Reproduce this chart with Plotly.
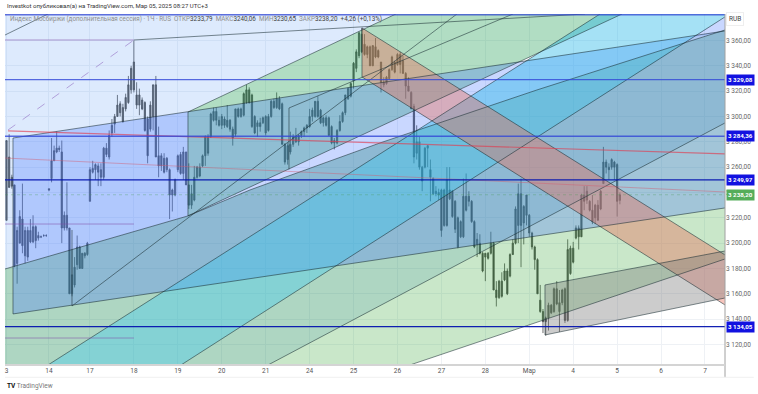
import plotly.graph_objects as go

# ---------- chart data (one session = 16 hourly bars) ----------
day_labels = ["3","14","17","18","19","20","21","24","25","26","27","28","Мар","4","5","6","7"]
# axis position of each session's first bar
day_pos = [0.0,0.968,1.901,2.902,3.903,4.904,5.904,6.905,7.906,8.906,9.907,10.908,11.908,12.909,13.910,14.911,15.911]
price_ticks = [3120,3140,3160,3180,3200,3220,3240,3260,3280,3300,3320,3340,3360]

opens = [
3218,3268,3252,3246,3184,3200,3219,3190,3210,3201,3201,3213,3204,3205,3206,3206,
3243,3251,3265,3272,3275,3272,3212,3222,3212,3160,3167,3183,3197,3180,3190,3191,
3233,3256,3258,3261,3258,3252,3275,3268,3287,3294,3300,3303,3307,3306,3311,3321,
3343,3317,3309,3313,3311,3298,3290,3300,3325,3269,3261,3267,3258,3258,3238,3238,
3258,3270,3255,3272,3246,3230,3234,3252,3260,3261,3269,3284,3284,3297,3304,3297,
3293,3298,3292,3297,3290,3286,3306,3300,3301,3311,3321,3317,3300,3292,3295,3295,
3287,3300,3300,3312,3307,3314,3310,3278,3266,3272,3278,3284,3280,3285,3288,3291,
3292,3300,3300,3312,3305,3295,3299,3299,3292,3279,3279,3289,3296,3303,3314,3316,
3328,3338,3348,3365,3357,3349,3355,3340,3355,3352,3343,3327,3326,3330,3337,3343,
3341,3349,3344,3334,3324,3319,3308,3271,3280,3260,3260,3275,3258,3251,3239,3240,
3242,3214,3250,3235,3241,3233,3220,3205,3205,3237,3237,3233,3217,3199,3200,3192,
3189,3192,3192,3200,3163,3157,3170,3171,3178,3174,3191,3200,3214,3239,3216,3222,
3222,3208,3197,3187,3155,3146,3141,3141,3151,3146,3164,3146,3153,3164,3139,3176,
3196,3204,3212,3205,3238,3234,3233,3226,3220,3230,3227,3247,3264,3260,3260,3264,
3262,3233.79]
highs = [
3281,3286,3254,3246,3213,3226,3247,3213,3213,3219,3222,3214,3209,3206,3207,3207,
3243,3283,3277,3288,3277,3281,3225,3248,3212,3195,3189,3206,3198,3192,3193,3201,
3260,3265,3263,3263,3263,3276,3279,3289,3298,3302,3317,3312,3310,3318,3332,3340,
3360,3327,3322,3315,3312,3300,3312,3325,3332,3292,3271,3271,3268,3259,3243,3251,
3270,3272,3276,3272,3263,3246,3261,3261,3263,3270,3285,3286,3303,3307,3307,3300,
3302,3300,3309,3298,3292,3306,3307,3307,3319,3325,3323,3318,3301,3297,3299,3300,
3301,3302,3313,3314,3319,3316,3311,3279,3279,3288,3286,3291,3286,3289,3292,3294,
3306,3307,3312,3316,3306,3300,3301,3300,3293,3283,3290,3301,3304,3317,3323,3327,
3343,3353,3367,3370,3365,3356,3356,3356,3362,3353,3343,3331,3332,3338,3348,3344,
3350,3351,3348,3335,3331,3320,3310,3293,3284,3261,3276,3277,3266,3252,3245,3243,
3243,3243,3260,3260,3242,3234,3221,3218,3251,3255,3241,3234,3218,3208,3207,3193,
3192,3193,3209,3201,3170,3171,3177,3184,3180,3192,3203,3229,3247,3251,3230,3238,
3223,3209,3198,3188,3167,3148,3142,3153,3152,3165,3170,3163,3164,3165,3203,3198,
3201,3214,3214,3239,3245,3245,3234,3238,3231,3234,3242,3276,3266,3263,3267,3265,
3263,3240.06]
lows = [
3218,3244,3243,3181,3168,3200,3192,3184,3186,3200,3200,3196,3202,3204,3205,3205,
3241,3248,3265,3271,3272,3200,3210,3210,3160,3158,3165,3179,3180,3180,3188,3190,
3233,3255,3250,3245,3245,3250,3268,3266,3284,3287,3300,3300,3295,3304,3310,3318,
3319,3306,3301,3305,3288,3263,3288,3289,3268,3252,3257,3255,3256,3219,3225,3237,
3256,3254,3250,3246,3227,3227,3233,3251,3252,3260,3261,3269,3283,3296,3293,3292,
3290,3291,3291,3288,3277,3284,3299,3299,3300,3310,3310,3291,3286,3284,3288,3294,
3285,3288,3299,3306,3306,3305,3278,3262,3262,3270,3276,3279,3277,3283,3284,3287,
3291,3296,3299,3299,3294,3292,3292,3285,3278,3274,3278,3288,3295,3301,3313,3315,
3322,3335,3346,3350,3348,3346,3340,3340,3346,3346,3319,3323,3325,3329,3336,3334,
3340,3334,3334,3314,3320,3306,3263,3266,3258,3241,3259,3260,3233,3238,3237,3234,
3205,3213,3213,3234,3220,3208,3196,3204,3204,3225,3229,3216,3196,3189,3191,3177,
3170,3187,3191,3163,3150,3156,3157,3170,3159,3173,3192,3199,3200,3181,3199,3214,
3205,3195,3179,3160,3145,3129,3127,3131,3144,3145,3151,3130,3151,3137,3138,3175,
3184,3203,3195,3213,3226,3231,3225,3215,3215,3218,3226,3247,3255,3250,3258,3250,
3221,3230.65]
closes = [
3281,3244,3245,3182,3210,3221,3198,3210,3189,3210,3213,3202,3206,3205,3206,3206,
3242,3265,3273,3275,3274,3212,3222,3212,3160,3175,3181,3197,3180,3192,3192,3200,
3258,3259,3262,3256,3252,3275,3270,3285,3293,3300,3309,3310,3296,3315,3325,3338,
3321,3309,3317,3306,3289,3269,3309,3325,3268,3261,3269,3256,3267,3238,3242,3250,
3269,3255,3272,3246,3230,3239,3252,3260,3253,3269,3284,3271,3302,3304,3297,3293,
3300,3293,3297,3290,3283,3306,3300,3306,3318,3321,3311,3292,3287,3295,3292,3299,
3300,3289,3312,3307,3314,3306,3278,3264,3277,3278,3284,3280,3285,3288,3291,3293,
3300,3305,3312,3300,3295,3299,3293,3285,3279,3281,3289,3296,3303,3317,3322,3326,
3342,3351,3366,3351,3349,3355,3340,3356,3347,3347,3327,3325,3331,3337,3347,3335,
3349,3341,3334,3324,3320,3306,3268,3280,3260,3249,3275,3277,3252,3239,3241,3238,
3210,3242,3214,3242,3221,3211,3197,3217,3237,3226,3233,3217,3197,3203,3192,3178,
3192,3188,3200,3163,3157,3170,3158,3178,3160,3191,3200,3227,3239,3214,3229,3238,
3208,3197,3187,3160,3146,3138,3138,3151,3145,3164,3152,3153,3163,3139,3195,3196,
3185,3212,3205,3238,3233,3241,3226,3217,3230,3218,3241,3264,3260,3258,3266,3260,
3233,3238.20]

# horizontal price levels
level_values = [3329.08, 3284.36, 3249.97, 3134.05]
top_level = 3380.3
last_price = 3238.20

# drawn zones, in (axis position, price)
pale_x = [-0.034,8.87,4.134,4.134,-0.034]
pale_y = [3380.9,3380.9,3303.5,3221.5,3179.6]
corner_x = [15.638,16.367,16.367]
corner_y = [3362.8,3378.6,3367.5]
upper_green_x = [4.134,4.134,14.02,8.87]
upper_green_y = [3303.5,3221.5,3380.9,3380.9]
channel_x = [0.148,16.367,16.367,0.148]
channel_y = [3283,3367.5,3227.8,3144.1]
green_x = [-0.034,4.134,5.547,8.508,12.08,16.367,16.367,9.19,-0.034]
green_y = [3179.6,3221.5,3242,3279.1,3320.9,3368.3,3187.5,3103.8,3103.8]
band_left_x = [-0.034,4.134,5.547,8.508,9.35,0.945,-0.034]
band_left_y = [3179.6,3221.5,3242,3279.1,3289,3103.8,3103.8]
band_mid_x = [3.975,5.957,16.367,16.367,15.638]
band_mid_y = [3103.8,3103.8,3294.9,3368.3,3362.8]
cyan_x = [0.945,3.975,16.367,16.367,13.52]
cyan_y = [3103.8,3103.8,3378.6,3380.9,3380.9]
down_x = [8.098,16.367,16.367,8.098]
down_y = [3369.9,3190.7,3151.2,3331.2]
gray_x = [12.266,16.367,16.367,12.266]
gray_y = [3167,3193.8,3156.7,3127.5]

# trend lines, in (axis position, price)
trend_x = [
 2.904,13.178,None, -0.034,0.945,None, 4.134,8.87,None,
 0.945,13.52,None, 3.975,16.367,None, 5.957,16.367,None, 9.19,16.367,None,
 1.492,10.26,None, 6.435,11.537,None, 6.435,6.435,None,
 0.148,16.367,None, 0.148,16.367,None, 4.134,14.02,None,
 -0.034,4.134,5.547,8.508,12.08,16.367,None,
 8.098,16.367,None, 8.098,16.367,None, 12.266,16.367,None, 12.266,16.367,None,
 0.148,0.148,None, 1.492,1.492,None, 4.134,4.134,None, 8.098,8.098,None, 12.266,12.266]
trend_y = [
 3360.4,3380.9,None, 3364.3,3380.9,None, 3303.5,3380.9,None,
 3103.8,3380.9,None, 3103.8,3378.6,None, 3103.8,3294.9,None, 3103.8,3187.5,None,
 3150.4,3380.9,None, 3306.7,3380.9,None, 3306.7,3258.2,None,
 3144.1,3227.8,None, 3283,3367.5,None, 3221.5,3380.9,None,
 3179.6,3221.5,3242,3279.1,3320.9,3368.3,None,
 3369.9,3190.7,None, 3331.2,3151.2,None, 3167,3193.8,None, 3127.5,3156.7,None,
 3283,3144.1,None, 3210.4,3150.4,None, 3303.5,3221.5,None, 3369.9,3331.2,None, 3167,3127.5]

fib_x = [-0.034,2.904]
fib_levels = [3360.4,3215.1,3125.1]
dash_x = [0.034,2.904]
dash_y = [3289.3,3360.4]
red_x = [0.034,16.367]
red_y = [3288.6,3270.4]
red2_x = [-0.034,16.367]
red2_y = [3267.2,3240.4]

title_text = "Investkot опубликовал(а) на TradingView.com, Мар 05, 2025 08:27 UTC+3"
info_name = "Индекс Мосбиржи (дополнительная сессия) · 1Ч · RUS"
info_values = [("ОТКР","3233,79"),("МАКС","3240,06"),("МИН","3230,65"),("ЗАКР","3238,20")]
info_change = "+4,26 (+0,13%)"

X0, X1 = -0.034, 16.367
Y0, Y1 = 3103.8, 3380.9


def fmt(v):
    s = f"{v:,.2f}"
    return s.replace(",", " ").replace(".", ",")


# bar position: session start plus its share of the session
BARS = 16
bar_x = []
for i in range(len(opens)):
    d, j = i // BARS, i % BARS
    bar_x.append(day_pos[d] + j * (day_pos[d + 1] - day_pos[d]) / BARS)

fig = go.Figure()

fig.add_trace(go.Candlestick(
    x=bar_x, open=opens, high=highs, low=lows, close=closes,
    whiskerwidth=0,
    increasing=dict(line=dict(color="#484848", width=0.8), fillcolor="#5a5a5a"),
    decreasing=dict(line=dict(color="#484848", width=0.8), fillcolor="#444444"),
    showlegend=False, hoverinfo="skip"))

zones = [
    (pale_x, pale_y, "rgba(100,160,245,0.22)"),
    (green_x, green_y, "rgba(60,170,60,0.28)"),
    (band_left_x, band_left_y, "rgba(40,130,160,0.17)"),
    (band_mid_x, band_mid_y, "rgba(40,130,160,0.17)"),
    (upper_green_x, upper_green_y, "rgba(40,160,90,0.36)"),
    (channel_x, channel_y, "rgba(60,110,255,0.28)"),
    (corner_x, corner_y, "rgba(60,110,255,0.28)"),
    (cyan_x, cyan_y, "rgba(30,180,230,0.40)"),
    (down_x, down_y, "rgba(235,110,90,0.40)"),
    (gray_x, gray_y, "rgba(120,120,120,0.38)"),
]
for zx, zy, col in zones:
    fig.add_trace(go.Scatter(x=zx, y=zy, fill="toself", fillcolor=col, mode="none",
                             showlegend=False, hoverinfo="skip"))


def line(x, y, color, width=1, dash="solid"):
    fig.add_trace(go.Scatter(x=x, y=y, mode="lines", showlegend=False, hoverinfo="skip",
                             line=dict(color=color, width=width, dash=dash)))


line(trend_x, trend_y, "rgba(25,45,50,0.62)", 0.9)
line(dash_x, dash_y, "rgba(140,100,190,0.7)", 0.8, "dash")
for lv in fib_levels:
    line(fib_x, [lv, lv], "rgba(130,80,170,0.6)", 0.9)
line(red_x, red_y, "rgba(225,60,80,0.65)", 1.2)
line(red2_x, red2_y, "rgba(210,90,110,0.5)", 0.9)
line([X0, X1], [last_price, last_price], "rgba(70,150,80,0.4)", 0.8, "dot")
line([X0, X1], [top_level, top_level], "rgba(50,70,210,0.75)", 1.5)
for lv in level_values:
    w = 1.5 if lv == 3284.36 else 1.2
    col = "rgba(50,70,215,0.8)" if lv in (3284.36, 3329.08) else "rgba(5,20,175,0.95)"
    line([X0, X1], [lv, lv], col, w)

FONT = "Roboto, Arial, sans-serif"
anns = [
    dict(text=title_text, xref="paper", yref="paper", x=0, y=1.0228, xanchor="left", yanchor="middle",
         showarrow=False, font=dict(size=6, color="#333333", family=FONT)),
]
info = f'<span style="color:#8f8f8f">{info_name}</span>  '
for k, v in info_values:
    info += f'<span style="color:#8f8f8f">{k}</span><span style="color:#444444">{v}</span>  '
info += f'<span style="color:#444444">{info_change}</span>'
anns.append(dict(text=info, xref="paper", yref="paper", x=0.0042, y=0.9858, xanchor="left", yanchor="middle",
                 showarrow=False, font=dict(size=6.3, family=FONT)))
anns.append(dict(text="RUB", xref="paper", yref="paper", x=1.002, y=0.986, xanchor="left", yanchor="middle",
                 showarrow=False, bordercolor="#eeeeee", borderwidth=1, borderpad=2, bgcolor="#ffffff",
                 font=dict(size=6.5, color="#444444", family=FONT)))
for lv in level_values:
    anns.append(dict(text=f"<b>{fmt(lv)}</b>", xref="paper", yref="y", x=1.0, y=lv, xanchor="left", yanchor="middle",
                     xshift=1, showarrow=False, bgcolor="#1212e0", borderpad=1,
                     font=dict(size=6.2, color="#ffffff", family=FONT)))
anns.append(dict(text=f"<b>{fmt(last_price)}</b>", xref="paper", yref="y", x=1.0, y=last_price, xanchor="left",
                 yanchor="middle", xshift=1, showarrow=False, bgcolor="#55ad5a", borderpad=1,
                 font=dict(size=6.2, color="#ffffff", family=FONT)))
anns.append(dict(text='<b style="color:#111111">TV</b> <span style="color:#777777">TradingView</span>',
                 xref="paper", yref="paper", x=0, y=-0.06, xanchor="left", yanchor="middle", showarrow=False,
                 font=dict(size=6.5, family=FONT)))

fig.update_layout(
    width=758, height=394,
    margin=dict(l=5, r=33, t=14, b=29),
    paper_bgcolor="#ffffff", plot_bgcolor="#ffffff",
    showlegend=False,
    annotations=anns,
    xaxis=dict(range=[X0, X1], tickmode="array", tickvals=day_pos, ticktext=day_labels,
               rangeslider=dict(visible=False), showgrid=True, gridcolor="#eef1f5", gridwidth=1,
               zeroline=False, showline=False, ticks="", tickfont=dict(size=6.5, color="#555555", family=FONT)),
    yaxis=dict(range=[Y0, Y1], side="right", tickmode="array", tickvals=price_ticks,
               ticktext=[fmt(p) for p in price_ticks], showgrid=True, gridcolor="#eef1f5", gridwidth=1,
               zeroline=False, showline=False, ticks="", tickfont=dict(size=6.5, color="#666666", family=FONT)),
    shapes=[
        dict(type="line", xref="paper", yref="paper", x0=1, x1=1, y0=-0.035, y1=1,
             line=dict(color="#a0a0a0", width=1)),
        dict(type="line", xref="paper", yref="paper", x0=0, x1=1, y0=0, y1=0,
             line=dict(color="#d4d4d4", width=2)),
        dict(type="line", xref="paper", yref="paper", x0=0, x1=1.04, y0=-0.035, y1=-0.035,
             line=dict(color="#f0f0f0", width=1)),
    ],
)

fig.write_html("out.html", config={"displayModeBar": False},
               post_script="document.body.style.margin='0';document.documentElement.style.overflow='hidden';")
